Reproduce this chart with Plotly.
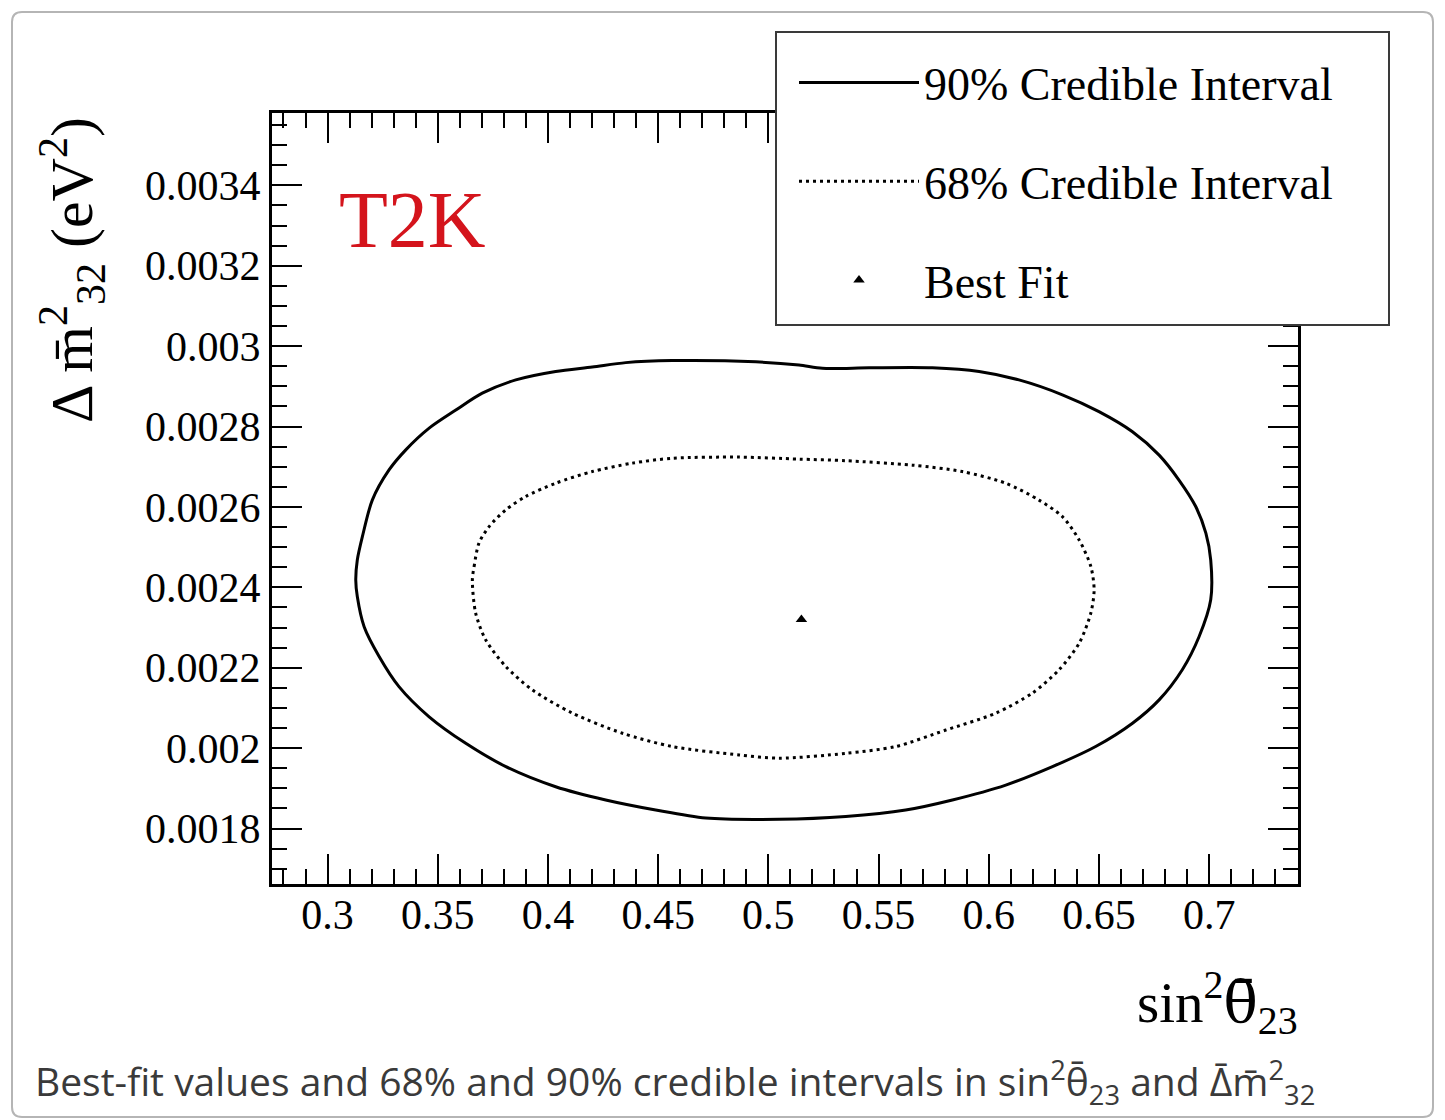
import plotly.graph_objects as go

# ---------------- data ----------------
ci90_sin2 = [0.3128, 0.3135, 0.3158, 0.3203, 0.3279, 0.3355, 0.3461, 0.3582, 0.3702, 0.3854,
             0.4035, 0.4201, 0.4353, 0.4564, 0.4943, 0.5139, 0.5245, 0.5457, 0.5744, 0.5956,
             0.6137, 0.6334, 0.6500, 0.6652, 0.6773, 0.6863, 0.6939, 0.6985, 0.7007, 0.7007,
             0.6954, 0.6878, 0.6773, 0.6652, 0.6485, 0.6289, 0.6077, 0.5835, 0.5623, 0.5351,
             0.5049, 0.4716, 0.4489, 0.4262, 0.4035, 0.3809, 0.3627, 0.3461, 0.3324, 0.3234,
             0.3166, 0.3135, 0.3128]
ci90_dm2 = [0.002418, 0.002468, 0.002526, 0.002617, 0.002692, 0.002742, 0.002796, 0.002841,
            0.002883, 0.002916, 0.002937, 0.002948, 0.002959, 0.002964, 0.002961, 0.002953,
            0.002945, 0.002946, 0.002946, 0.002937, 0.002916, 0.002879, 0.002837, 0.002787,
            0.002729, 0.002667, 0.002601, 0.002535, 0.002468, 0.002369, 0.002277, 0.002195,
            0.002120, 0.002062, 0.002004, 0.001954, 0.001908, 0.001871, 0.001846, 0.001830,
            0.001823, 0.001826, 0.001846, 0.001871, 0.001904, 0.001954, 0.002012, 0.002078,
            0.002153, 0.002228, 0.002302, 0.002377, 0.002418]

ci68_sin2 = [0.3657, 0.3665, 0.3687, 0.3733, 0.3809, 0.3899, 0.4035, 0.4201, 0.4383, 0.4564,
             0.4867, 0.5139, 0.5351, 0.5653, 0.5880, 0.6077, 0.6228, 0.6334, 0.6410, 0.6463,
             0.6478, 0.6463, 0.6410, 0.6319, 0.6198, 0.6032, 0.5805, 0.5578, 0.5351, 0.5049,
             0.4867, 0.4564, 0.4338, 0.4111, 0.3929, 0.3809, 0.3718, 0.3672, 0.3657]
ci68_dm2 = [0.002418, 0.002452, 0.002510, 0.002551, 0.002593, 0.002626, 0.002659, 0.002688,
            0.002709, 0.002721, 0.002724, 0.002719, 0.002715, 0.002704, 0.002688, 0.002659,
            0.002617, 0.002576, 0.002518, 0.002452, 0.002394, 0.002336, 0.002261, 0.002195,
            0.002137, 0.002087, 0.002045, 0.002004, 0.001987, 0.001975, 0.001983, 0.002004,
            0.002037, 0.002087, 0.002145, 0.002203, 0.002269, 0.002336, 0.002418]

best_fit_sin2 = [0.515]
best_fit_dm2 = [0.00232]

x_tick_vals = [0.30, 0.35, 0.40, 0.45, 0.50, 0.55, 0.60, 0.65, 0.70]
x_tick_text = ["0.3", "0.35", "0.4", "0.45", "0.5", "0.55", "0.6", "0.65", "0.7"]
y_tick_vals = [0.0018, 0.0020, 0.0022, 0.0024, 0.0026, 0.0028, 0.0030, 0.0032, 0.0034]
y_tick_text = ["0.0018", "0.002", "0.0022", "0.0024", "0.0026", "0.0028", "0.003", "0.0032", "0.0034"]

series_names = ["90% Credible Interval", "68% Credible Interval", "Best Fit"]

# ---------------- layout helpers ----------------
W, H = 1445, 1120
L, R, T, B = 272, 147, 113, 236
PW, PH = W - L - R, H - T - B


def px(x):
    return (x - L) / PW


def py(y):
    return (H - B - y) / PH


SERIF = "Liberation Serif"

fig = go.Figure()
fig.add_trace(go.Scatter(x=ci90_sin2, y=ci90_dm2, mode="lines", name=series_names[0],
                         line=dict(color="black", width=3, shape="spline", smoothing=0.8),
                         legendgroup="a"))
fig.add_trace(go.Scatter(x=ci68_sin2, y=ci68_dm2, mode="lines", name=series_names[1],
                         line=dict(color="black", width=3, dash="3px,4px", shape="spline", smoothing=0.8),
                         legendgroup="b"))
fig.add_trace(go.Scatter(x=best_fit_sin2, y=best_fit_dm2, mode="markers", name=series_names[2],
                         marker=dict(symbol="triangle-up", size=10, color="black"), legendgroup="c"))

axis_common = dict(showline=True, linecolor="black", linewidth=3, mirror="allticks",
                   ticks="inside", ticklen=30, tickwidth=2, tickcolor="black",
                   showgrid=False, zeroline=False,
                   tickfont=dict(family=SERIF, size=42, color="black"))

fig.update_xaxes(range=[0.2748, 0.7403], tickmode="array", tickvals=x_tick_vals, ticktext=x_tick_text,
                 ticklabelstandoff=-8,
                 minor=dict(ticks="inside", ticklen=15, tickwidth=2, tickcolor="black",
                            tickmode="linear", tick0=0.3, dtick=0.01, showgrid=False),
                 **axis_common)
fig.update_yaxes(range=[0.001662, 0.003580], tickmode="array", tickvals=y_tick_vals, ticktext=y_tick_text,
                 minor=dict(ticks="inside", ticklen=15, tickwidth=2, tickcolor="black",
                            tickmode="linear", tick0=0.0018, dtick=0.00005, showgrid=False),
                 **axis_common)

r = 10
x0, x1, y0, y1 = 12, 1433, 12, 1117
border_path = (f"M {px(x0 + r)},{py(y0)} L {px(x1 - r)},{py(y0)} Q {px(x1)},{py(y0)} {px(x1)},{py(y0 + r)} "
               f"L {px(x1)},{py(y1 - r)} Q {px(x1)},{py(y1)} {px(x1 - r)},{py(y1)} "
               f"L {px(x0 + r)},{py(y1)} Q {px(x0)},{py(y1)} {px(x0)},{py(y1 - r)} "
               f"L {px(x0)},{py(y0 + r)} Q {px(x0)},{py(y0)} {px(x0 + r)},{py(y0)} Z")

fig.update_layout(
    width=W, height=H,
    margin=dict(l=L, r=R, t=T, b=B),
    paper_bgcolor="white", plot_bgcolor="white",
    showlegend=True,
    legend=dict(x=px(794), y=py(46), xanchor="left", yanchor="top",
                bgcolor="rgba(0,0,0,0)", borderwidth=0,
                font=dict(family=SERIF, size=46, color="black"),
                tracegroupgap=36, itemwidth=120, traceorder="grouped"),
    shapes=[
        dict(type="path", xref="paper", yref="paper", path=border_path,
             line=dict(color="#b5b5b5", width=2), layer="below"),
        # legend box
        dict(type="rect", xref="paper", yref="paper", x0=px(776), x1=px(1389), y0=py(325), y1=py(32),
             fillcolor="white", line=dict(color="#3a3a3a", width=2), layer="above"),
    ],
    annotations=[
        dict(text="T2K", x=px(412), y=py(220), xref="paper", yref="paper", showarrow=False,
             font=dict(family=SERIF, size=80, color="#d4141c"), xanchor="center", yanchor="middle"),
        dict(text="Δ m\u0304<sup>2</sup><sub>32</sub> (eV<sup>2</sup>)", x=px(72), y=py(270),
             xref="paper", yref="paper", showarrow=False, textangle=-90,
             font=dict(family=SERIF, size=60, color="black"), xanchor="center", yanchor="middle"),
        dict(text="sin<sup>2</sup><span style=\"font-family:'DejaVu Serif'\">θ\u0304</span><sub>23</sub>",
             x=px(1300), y=py(1003),
             xref="paper", yref="paper", showarrow=False,
             font=dict(family=SERIF, size=57, color="black"), xanchor="right", yanchor="middle"),
        dict(text="Best-fit values and 68% and 90% credible intervals in sin<sup>2</sup>θ\u0304<sub>23</sub> and Δ\u0304m\u0304<sup>2</sup><sub>32</sub>",
             x=px(33), y=py(1082), xref="paper", yref="paper", showarrow=False,
             font=dict(family="Open Sans", size=39, color="#3a3a3a"), xanchor="left", yanchor="middle"),
    ],
)

fig.write_html("out.html")
